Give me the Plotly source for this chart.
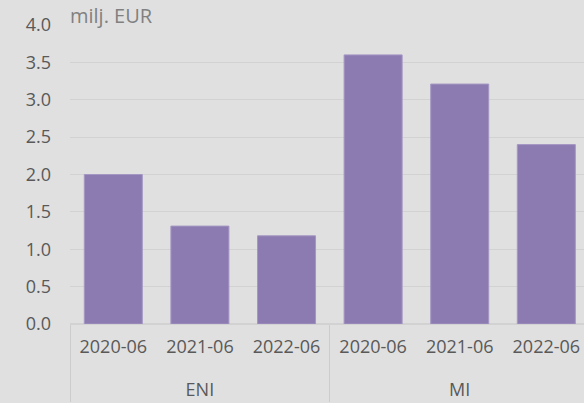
import plotly.graph_objects as go

groups = ["ENI", "ENI", "ENI", "MI", "MI", "MI"]
periods = ["2020-06", "2021-06", "2022-06", "2020-06", "2021-06", "2022-06"]
values = [2.0, 1.31, 1.18, 3.60, 3.21, 2.40]
y_ticks = [0, 0.5, 1.0, 1.5, 2.0, 2.5, 3.0, 3.5, 4.0]

group_labels = ["<br>" + g for g in groups]

fig = go.Figure(go.Bar(
    x=[group_labels, periods], y=values,
    marker=dict(color="#8c7bb0", line=dict(color="#a597c4", width=1)),
))

fig.update_layout(
    width=584, height=403,
    margin=dict(l=70, r=0, t=25, b=79),
    paper_bgcolor="#e0e0e0", plot_bgcolor="#e0e0e0",
    bargap=0.33,
    showlegend=False,
    font=dict(family="Open Sans", size=18, color="#595959"),
)
fig.update_yaxes(
    range=[0, 4.0], tickvals=y_ticks, tickformat=".1f",
    gridcolor="#d2d2d2", gridwidth=1, zeroline=True, zerolinecolor="#d2d2d2",
    showline=False, ticks="", ticklabelstandoff=18,
    tickfont=dict(size=18, color="#595959"),
)
fig.update_xaxes(
    type="multicategory", range=[-0.5, 5.435],
    showdividers=True, dividercolor="#cccccc", dividerwidth=1,
    showline=True, linecolor="#d2d2d2", ticks="", ticklabelstandoff=6,
    tickfont=dict(size=18, color="#595959"),
)
fig.add_annotation(
    text="milj. EUR", xref="paper", yref="paper", x=0.0, y=1.0,
    xanchor="left", yanchor="bottom", showarrow=False, xshift=-2, yshift=-6,
    font=dict(size=20, color="#808080"),
)
fig.write_html(
    "out.html",
    config={"displayModeBar": False},
    post_script="document.body.style.margin='0';document.body.style.padding='0';",
)
